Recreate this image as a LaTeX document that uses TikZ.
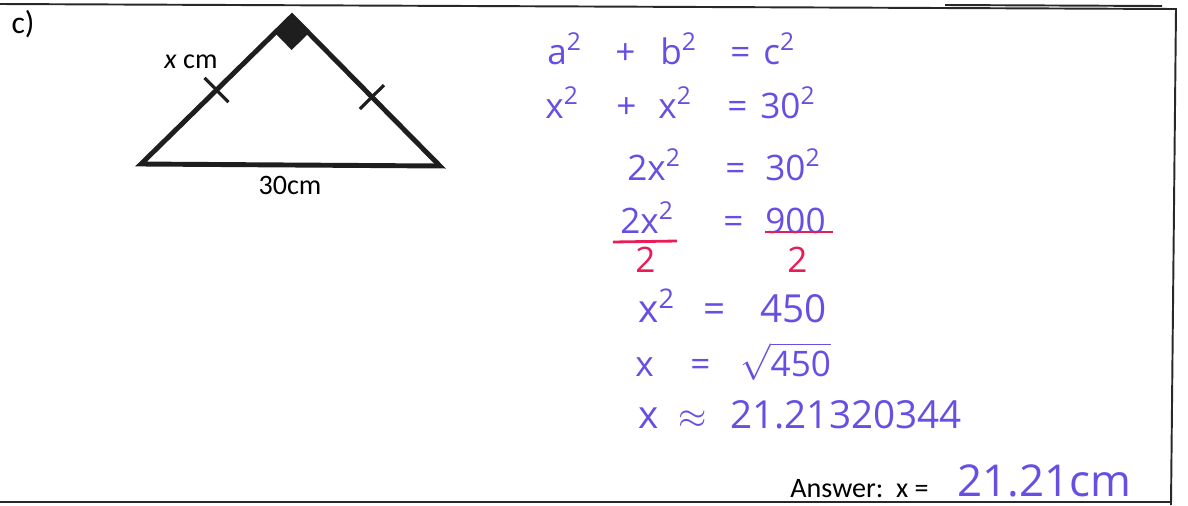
\documentclass[tikz,border=0pt]{standalone}
\usepackage{amsmath}
\usepackage{fontspec}
\setmainfont{Carlito}
\newfontfamily\handfont{Open Sans}
\usetikzlibrary{calc, positioning}
\definecolor{penblue}{RGB}{104,78,226}
\definecolor{penred}{RGB}{232,28,86}
\definecolor{frameline}{RGB}{40,40,40}
\definecolor{inkblack}{RGB}{30,30,30}
\tikzset{
  frame/.style={draw=frameline, line width=1.1pt},
  tri/.style={draw=inkblack, line width=2.8pt, line join=miter},
  tickmark/.style={draw=inkblack, line width=1.8pt},
  printed/.style={font=\fontsize{16}{19}\selectfont, inner sep=0pt},
  hand/.style={text=penblue, inner sep=0pt, anchor=base west,
    font=\handfont\fontsize{20}{24}\selectfont},
  handbig/.style={hand, font=\handfont\fontsize{22}{25}\selectfont},
  handred/.style={hand, text=penred},
  redline/.style={draw=penred, line width=1.6pt}
}

\begin{document}
\begin{tikzpicture}[x=0.02cm, y=-0.02cm]
  \useasboundingbox (0,0) rectangle (1188,505);

  % frame of the answer box
  \coordinate (ftl) at (0,4);
  \coordinate (ftr) at (1176,9);
  \coordinate (fbr) at (1171,505);
  \coordinate (fbl) at (0,502);
  \draw[frame] (ftl) -- (ftr) -- (fbr);
  \draw[frame] (fbl) -- (1171,502);
  \draw[frame] (945,5) -- (1162,6);

  % triangle
  \coordinate (L) at (141,164);
  \coordinate (R) at (440,166);
  \coordinate (T) at (292,16);
  \draw[tri] (L) -- (T) -- (R) -- cycle;
  \coordinate (qa) at ($(T)!0.114!(L)$);
  \coordinate (qb) at ($(T)!0.114!(R)$);
  \fill[inkblack] (T) -- (qa) -- ($(qa)+(qb)-(T)$) -- (qb) -- cycle;
  \coordinate (mL) at ($(T)!0.5!(L)$);
  \coordinate (mR) at ($(T)!0.54!(R)$);
  \draw[tickmark] ($(mL)!0.34cm!90:(T)$) -- ($(mL)!0.34cm!-90:(T)$);
  \draw[tickmark] ($(mR)!0.34cm!90:(T)$) -- ($(mR)!0.34cm!-90:(T)$);

  \node[printed, font=\fontsize{18}{20}\selectfont] (part) at (23,24) {c)};
  \node[printed] (side) at (191,62) {\textit{x} cm};
  \node[printed] (base) at (290,185) {30cm};

  % working
  \node[hand] (a1) at (547,64) {a\textsuperscript{2}};
  \node[hand] (p1) at (615,64) {+};
  \node[hand] (b1) at (660,64) {b\textsuperscript{2}};
  \node[hand] (e1) at (730,64) {=};
  \node[hand] (c1) at (763,64) {c\textsuperscript{2}};

  \node[hand] (a2) at (545,118) {x\textsuperscript{2}};
  \node[hand] (p2) at (616,118) {+};
  \node[hand] (b2) at (658,118) {x\textsuperscript{2}};
  \node[hand] (e2) at (727,118) {=};
  \node[hand] (c2) at (760,118) {30\textsuperscript{2}};

  \node[hand] (a3) at (627,180) {2x\textsuperscript{2}};
  \node[hand] (e3) at (725,180) {=};
  \node[hand] (c3) at (765,180) {30\textsuperscript{2}};

  \node[hand] (a4) at (620,233) {2x\textsuperscript{2}};
  \node[hand] (e4) at (723,233) {=};
  \node[hand] (c4) at (765,233) {900};
  \draw[redline] (613,242) -- (677,241);
  \draw[redline] (765,232) -- (833,232);
  \node[handred] (d4l) at (635,272) {2};
  \node[handred] (d4r) at (787,272) {2};

  \node[handbig] (a5) at (638,322) {x\textsuperscript{2}};
  \node[handbig] (e5) at (703,322) {=};
  \node[handbig] (c5) at (760,322) {450};

  \node[hand] (a6) at (635,376) {x};
  \node[hand] (e6) at (690,376) {=};
  \node[hand] (c6) at (740,376) {$\sqrt{\text{450}}$};

  \node[handbig] (a7) at (638,428) {x};
  \node[handbig] (e7) at (678,428) {$\approx$};
  \node[handbig] (c7) at (730,428) {21.21320344};

  \node[printed, anchor=west] (ans) at (790,489) {Answer:\ \ x =};
  \node[handbig, font=\handfont\fontsize{25}{27}\selectfont] (ansv) at (957,496) {21.21cm};
\end{tikzpicture}
\end{document}
